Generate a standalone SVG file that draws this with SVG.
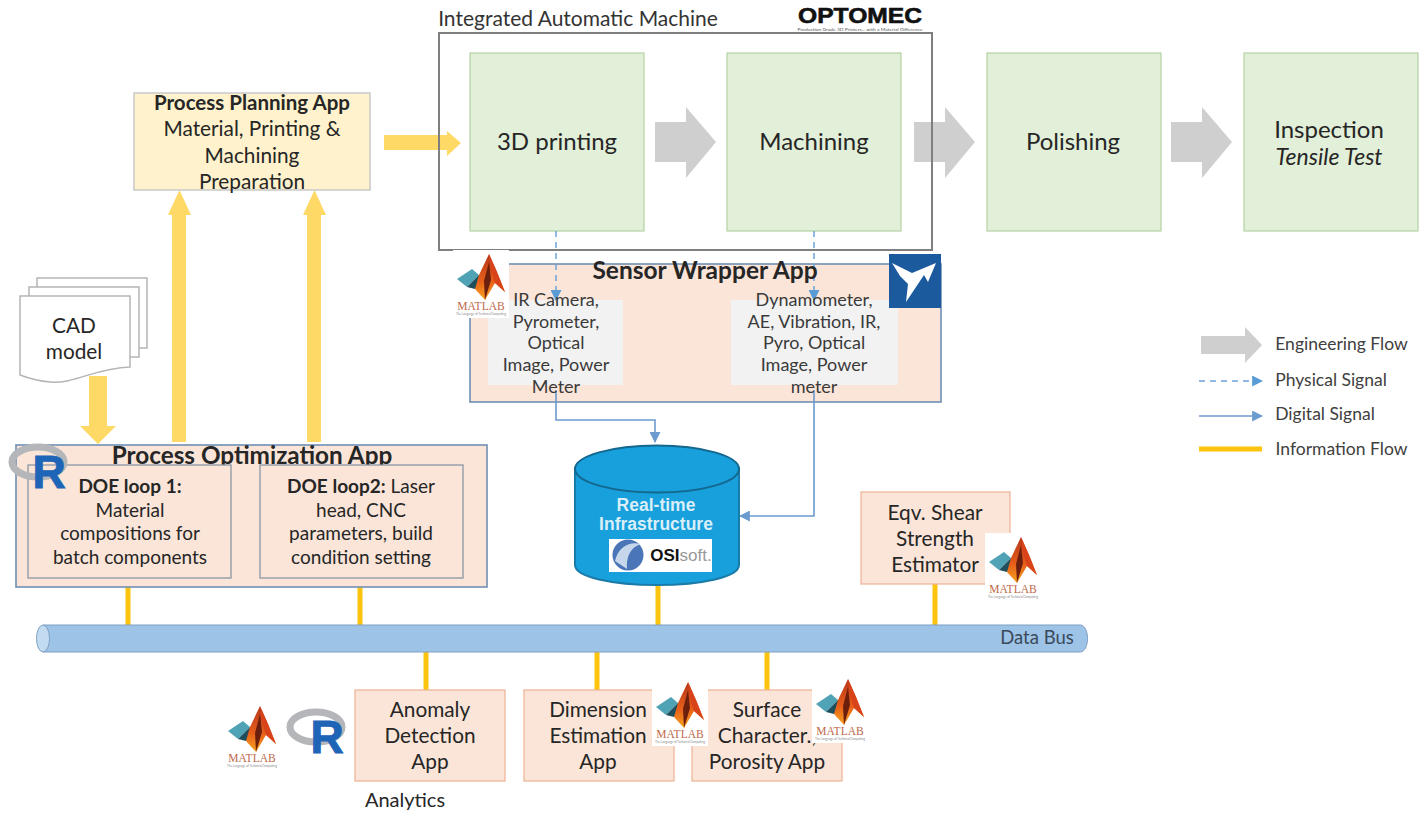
<svg xmlns="http://www.w3.org/2000/svg" width="1422" height="817" viewBox="0 0 1422 817">
<style>
text{font-family:Lato,"Open Sans","Liberation Sans",sans-serif;fill:#262626;text-anchor:middle}
.t19{font-size:20.800px}.t17{font-size:18px;fill:#3a3a3a}.t22{font-size:24px}.d{font-size:19px}.b{font-weight:700}
.green{fill:#e2efd9;stroke:#b5d3a2;stroke-width:1.2}
.peach{fill:#fae5d8;stroke:#eeb196;stroke-width:1.2}
.peachb{fill:#fae5d8;stroke:#6f8fb5;stroke-width:1.6}
.inner{fill:#fae5d8;stroke:#8a97a5;stroke-width:1.3}
.gray{fill:#cfcfcf}.yel{fill:#ffd966}
.info{stroke:#fcc40f;stroke-width:5;fill:none}
.phys{stroke:#6ea3d8;stroke-width:1.5;stroke-dasharray:6 5;fill:none}
.dig{stroke:#6b9bcf;stroke-width:1.6;fill:none}
.page{fill:#fff;stroke:#b5b5b5;stroke-width:1.5}
.inf{font-family:"Liberation Sans",sans-serif;font-weight:700;font-size:17.500px;fill:#d9eef9}
</style>
<defs>
<linearGradient id="mg" x1="0" y1="0" x2="0" y2="1"><stop offset="0" stop-color="#b5341a"/><stop offset="0.6" stop-color="#e8601a"/><stop offset="1" stop-color="#f7a51f"/></linearGradient>
<marker id="ah" viewBox="0 0 10 10" refX="9" refY="5" markerWidth="11" markerHeight="11" markerUnits="userSpaceOnUse" orient="auto"><path d="M0 0L10 5L0 10z" fill="#5b9bd5"/></marker>
<marker id="ah2" viewBox="0 0 10 10" refX="9" refY="5" markerWidth="11" markerHeight="11" markerUnits="userSpaceOnUse" orient="auto"><path d="M0 0L10 5L0 10z" fill="#6b9bcf"/></marker>
<g id="matlab">
<rect x="0" y="0" width="56" height="68" fill="#fff"/>
<path d="M4 29L19 19L26 25L14 37z" fill="#4fa3b5"/>
<path d="M14 37L26 25L31 31L22 39z" fill="#1f4f5c"/>
<path d="M26 25L36 4L44 22L52 42L42 33L32 50L22 39z" fill="url(#mg)"/>
<path d="M36 4L44 22L52 42L42 33L38 20z" fill="#d8431a"/>
<path d="M31 31L36 12L38 30L32 50z" fill="#6d1f0d"/>
<text x="28" y="60" style="font-family:'Liberation Serif',serif;font-size:11.500px;fill:#c0694a">MATLAB</text>
<text x="28" y="65" style="font-size:3px;fill:#888">The Language of Technical Computing</text>
</g>
<g id="rlogo">
<ellipse cx="30" cy="19" rx="26" ry="15" fill="none" stroke="#b4b6ba" stroke-width="7"/>
<text x="41" y="45" style="font-family:'Liberation Sans',sans-serif;font-weight:700;font-size:46px;fill:#1f65b7;stroke:#1f65b7;stroke-width:1">R</text>
</g>
</defs>

<g id="connectors">
<path class="info" d="M128 578V625M360 578V625M658 585V625M935 584V625M426 652V690M597 652V690M767 652V690"/>
<path class="yel" d="M172 442V215H168L179.500 190L191 215H186V442zM307 442V215H303L314.500 190L326 215H321V442zM89 376H107V426H116L98 444L80 426H89zM384 135H447V131L461 143L447 156V150H384z"/>
<path class="gray" d="M655 122H686V107L716 142L686 178V162H655zM914 122H945V107L975 142L945 178V162H914zM1171 122H1202V107L1232 142L1202 178V162H1171z"/>
</g>

<g id="machine"><rect x="439" y="33" width="493" height="217" fill="none" stroke="#7f7f7f" stroke-width="2"/><text x="578" y="26" style="font-size:21px;fill:#333">Integrated Automatic Machine</text></g>
<g id="optomec"><text x="860" y="23" style="font-family:'Liberation Sans',sans-serif;font-weight:700;font-size:22px;fill:#111;stroke:#111;stroke-width:0.6" textLength="124" lengthAdjust="spacingAndGlyphs">OPTOMEC</text><text x="860" y="31" style="font-size:4px;fill:#555" textLength="125" lengthAdjust="spacingAndGlyphs">Production Grade 3D Printers... with a Material Difference</text></g>

<g id="printing"><rect class="green" x="470" y="53" width="174" height="178"/><text x="557" y="150" class="t22">3D printing</text></g>
<g id="machining"><rect class="green" x="727" y="53" width="174" height="178"/><text x="814" y="150" class="t22">Machining</text></g>
<g id="polishing"><rect class="green" x="987" y="53" width="174" height="178"/><text x="1073" y="150" class="t22">Polishing</text></g>
<g id="inspection"><rect class="green" x="1244" y="53" width="174" height="178"/><text x="1329" y="138" class="t22">Inspection</text><text x="1329" y="165" style="font-size:23px;font-style:italic">Tensile Test</text></g>

<g id="planning"><rect x="134" y="93" width="236" height="97" fill="#fff2cc" stroke="#c9c9c9" stroke-width="1.500"/><text x="252" y="110" class="b" style="font-size:20.500px">Process Planning App</text><text x="252" y="136" class="t19">Material, Printing &amp;</text><text x="252" y="163" class="t19">Machining</text><text x="252" y="189" class="t19">Preparation</text></g>

<g id="cad"><rect class="page" x="37" y="278" width="110" height="70"/><rect class="page" x="29" y="287" width="110" height="70"/><path class="page" d="M20 296H130V367C95 368 75 384 50 382C38 381 28 378 20 375z"/><text x="74" y="333" class="t19">CAD</text><text x="74" y="359" class="t19">model</text></g>

<g id="sensor"><rect class="peachb" x="470" y="264" width="471" height="138"/><rect x="488" y="300" width="135" height="85" fill="#f2f2f2"/><rect x="731" y="300" width="167" height="85" fill="#f2f2f2"/></g>
<g id="signals">
<path class="phys" d="M556 231V300" marker-end="url(#ah)"/>
<path class="phys" d="M814 231V300" marker-end="url(#ah)"/>
<path class="dig" d="M556 390V420H655V442" marker-end="url(#ah2)"/><path class="dig" d="M814 390V516H740" marker-end="url(#ah2)"/>
</g>
<g id="sensortext">
<text x="705" y="279" class="b" style="font-size:24.500px">Sensor Wrapper App</text>
<text x="556" y="306" class="t17">IR Camera,</text><text x="556" y="328" class="t17">Pyrometer,</text><text x="556" y="349" class="t17">Optical</text><text x="556" y="371" class="t17">Image, Power</text><text x="556" y="393" class="t17">Meter</text>
<text x="814" y="306" class="t17">Dynamometer,</text><text x="814" y="328" class="t17">AE, Vibration, IR,</text><text x="814" y="349" class="t17">Pyro, Optical</text><text x="814" y="371" class="t17">Image, Power</text><text x="814" y="393" class="t17">meter</text></g>
<g id="ni"><rect x="889" y="254" width="52" height="54" fill="#1c5a9e"/><path d="M892 263L912 273L936 263L928 282L924 275L914 290L906 302L908 284L900 276z" fill="#fff"/></g>

<g id="optimization"><rect class="peachb" x="16" y="445" width="471" height="142"/><text x="252" y="464" class="b" style="font-size:24.300px">Process Optimization App</text>
<rect class="inner" x="28" y="465" width="203" height="113"/><rect class="inner" x="260" y="465" width="203" height="113"/>
<text x="130" y="493" class="d b">DOE loop 1:</text><text x="130" y="517" class="d">Material</text><text x="130" y="540" class="d">compositions for</text><text x="130" y="564" class="d">batch components</text>
<text x="361" y="493" class="d"><tspan class="b">DOE loop2:</tspan> Laser</text><text x="361" y="517" class="d">head, CNC</text><text x="361" y="540" class="d">parameters, build</text><text x="361" y="564" class="d">condition setting</text></g>
<g id="rlogo1"><use href="#rlogo" x="8" y="443"/></g>

<g id="infrastructure"><path d="M575 469V565C575 577 612 585 657 585S739 577 739 565V469z" fill="#17a0dc" stroke="#1a7ba8" stroke-width="2"/><ellipse cx="657" cy="469" rx="82" ry="23.500" fill="#17a0dc" stroke="#14688f" stroke-width="2"/>
<text x="656" y="511" class="inf">Real-time</text><text x="656" y="530" class="inf">Infrastructure</text>
<rect x="609" y="539" width="103" height="33" fill="#fff"/><circle cx="628" cy="555" r="15.500" fill="#4a76b8"/><path d="M615 561C618 548 628 541 641 544C631 547 626 556 627 569z" fill="#c6d7ec"/>
<text x="681" y="561" style="font-family:'Liberation Sans',sans-serif;font-weight:700;font-size:17px;fill:#111">OSI<tspan style="font-weight:400;fill:#999">soft.</tspan></text></g>

<g id="estimator"><rect class="peach" x="861" y="492" width="149" height="92"/><text x="935" y="520" class="t19">Eqv. Shear</text><text x="935" y="546" class="t19">Strength</text><text x="935" y="572" class="t19">Estimator</text></g>
<g id="databus"><path d="M43 625H1080C1090 625 1090 652 1080 652H43z" fill="#9dc3e6" stroke="#7f9fc4" stroke-width="1"/><ellipse cx="43" cy="638.500" rx="6.500" ry="13.500" fill="#c3dbf1" stroke="#7f9fc4"/><text x="1037" y="644" style="font-size:18.500px;fill:#3b4a5a">Data Bus</text></g>

<g id="anomaly"><rect class="peach" x="355" y="690" width="150" height="91"/><text x="430" y="717" class="t19">Anomaly</text><text x="430" y="743" class="t19">Detection</text><text x="430" y="769" class="t19">App</text></g>
<g id="dimension"><rect class="peach" x="524" y="690" width="150" height="91"/><text x="598" y="717" class="t19">Dimension</text><text x="598" y="743" class="t19">Estimation</text><text x="598" y="769" class="t19">App</text></g>
<g id="surface"><rect class="peach" x="692" y="690" width="150" height="91"/><text x="767" y="717" class="t19">Surface</text><text x="767" y="743" class="t19">Character.,</text><text x="767" y="769" class="t19">Porosity App</text></g>
<g id="analytics"><text x="405" y="807" style="font-size:20px">Analytics</text></g>
<g id="rlogo2"><use href="#rlogo" x="286" y="708"/></g>

<g id="matlab1"><use href="#matlab" x="453" y="250"/></g>
<g id="matlab2"><use href="#matlab" x="985" y="533"/></g>
<g id="matlab3"><use href="#matlab" x="224" y="702"/></g>
<g id="matlab4"><use href="#matlab" x="652" y="678"/></g>
<g id="matlab5"><use href="#matlab" x="812" y="675"/></g>

<g id="legend">
<path class="gray" d="M1201 336H1245V327L1262 345L1245 363V354H1201z"/>
<path class="phys" d="M1199 381H1262" marker-end="url(#ah)"/>
<path class="dig" d="M1199 416H1262" marker-end="url(#ah2)"/>
<path class="info" d="M1199 449H1262"/>
<g style="font-size:17.500px"><text x="1341.500" y="350" style="fill:#404040">Engineering Flow</text><text x="1331" y="386" style="fill:#404040">Physical Signal</text><text x="1325" y="420" style="fill:#404040">Digital Signal</text><text x="1341.500" y="455" style="fill:#404040">Information Flow</text></g>
</g>
</svg>
